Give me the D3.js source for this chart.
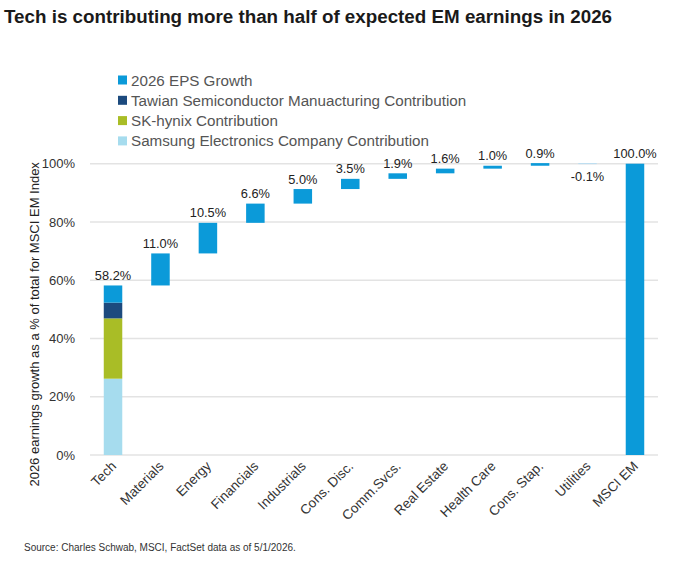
<!DOCTYPE html>
<html>
<head>
<meta charset="utf-8">
<script src="https://cdn.jsdelivr.net/npm/d3@7"></script>
<style>
	body { margin: 0; background: #fff; }
	svg { display: block; }
	text { font-family: "Liberation Sans", Arial, sans-serif; }
</style>
</head>
<body>
<script>
(function() {

	// categories and values (% of total MSCI EM earnings growth)
	var categories = ['Tech', 'Materials', 'Energy', 'Financials', 'Industrials', 'Cons. Disc.',
		'Comm.Svcs.', 'Real Estate', 'Health Care', 'Cons. Stap.', 'Utilities', 'MSCI EM'];
	var growth = [58.2, 11.0, 10.5, 6.6, 5.0, 3.5, 1.9, 1.6, 1.0, 0.9, -0.1, 100.0];

	// tech split
	var samsung = 26.2;
	var skHynix = 20.7;
	var tsmc = 5.4;
	var techRest = 5.9;

	var seriesNames = ['2026 EPS Growth', 'Tawian Semiconductor Manuacturing Contribution',
		'SK-hynix Contribution', 'Samsung Electronics Company Contribution'];
	var seriesColors = ['#0b9ad9', '#1c4a7e', '#a9bd26', '#a6dcee'];

	var yTicks = [0, 20, 40, 60, 80, 100];

	var width = 680, height = 561;
	var left = 90, right = 658, top = 163.7, bottom = 455;

	var svg = d3.select('body').append('svg')
		.attr('width', width)
		.attr('height', height);

	svg.append('text')
		.attr('x', 4).attr('y', 23)
		.attr('font-size', 18.8).attr('font-weight', 'bold')
		.attr('fill', '#1a1a1a')
		.text('Tech is contributing more than half of expected EM earnings in 2026');

	var x = d3.scaleBand()
		.domain(categories)
		.range([left, right])
		.paddingInner(0.61)
		.paddingOuter(0.29);

	var y = d3.scaleLinear()
		.domain([0, 100])
		.range([bottom, top]);

	// gridlines
	svg.append('g').selectAll('line')
		.data(yTicks)
		.enter().append('line')
		.attr('x1', left).attr('x2', right)
		.attr('y1', function(d) { return y(d); })
		.attr('y2', function(d) { return y(d); })
		.attr('stroke', '#e3e3e3').attr('stroke-width', 1.5);

	// y axis
	var yAxis = svg.append('g')
		.attr('transform', 'translate(' + (left - 12) + ',0)')
		.call(d3.axisLeft(y).tickValues(yTicks).tickSize(0).tickFormat(function(d) { return d + '%'; }));
	yAxis.select('.domain').remove();
	yAxis.selectAll('text').attr('font-size', 13).attr('fill', '#333')
		.style('font-family', '"Liberation Sans", Arial, sans-serif');

	svg.append('text')
		.attr('transform', 'translate(39,' + ((top + bottom) / 2 + 15) + ') rotate(-90)')
		.attr('text-anchor', 'middle')
		.attr('font-size', 13).attr('fill', '#222')
		.text('2026 earnings growth as a % of total for MSCI EM Index');

	// waterfall extents
	var bars = [];
	var running = 0;
	categories.forEach(function(c, i) {
		var v = growth[i];
		var lo, hi;
		if (c === 'MSCI EM') { lo = 0; hi = v; }
		else { lo = running; hi = running + v; running = hi; }
		bars.push({ cat: c, value: v, y0: Math.min(lo, hi), y1: Math.max(lo, hi) });
	});

	var g = svg.append('g');

	// tech stacked segments
	var techSegs = [
		{ y0: 0, y1: samsung, color: seriesColors[3] },
		{ y0: samsung, y1: samsung + skHynix, color: seriesColors[2] },
		{ y0: samsung + skHynix, y1: samsung + skHynix + tsmc, color: seriesColors[1] },
		{ y0: samsung + skHynix + tsmc, y1: samsung + skHynix + tsmc + techRest, color: seriesColors[0] }
	];
	g.selectAll('rect.tech')
		.data(techSegs)
		.enter().append('rect')
		.attr('class', 'tech')
		.attr('x', x('Tech'))
		.attr('width', x.bandwidth())
		.attr('y', function(d) { return y(d.y1); })
		.attr('height', function(d) { return y(d.y0) - y(d.y1); })
		.attr('fill', function(d) { return d.color; });

	g.selectAll('rect.bar')
		.data(bars.slice(1))
		.enter().append('rect')
		.attr('class', 'bar')
		.attr('x', function(d) { return x(d.cat); })
		.attr('width', x.bandwidth())
		.attr('y', function(d) { return y(d.y1); })
		.attr('height', function(d) { return Math.max(1, y(d.y0) - y(d.y1)); })
		.attr('fill', function(d) { return d.value < 0 ? '#b9def2' : seriesColors[0]; });

	// value labels
	g.selectAll('text.val')
		.data(bars)
		.enter().append('text')
		.attr('class', 'val')
		.attr('x', function(d) { return x(d.cat) + x.bandwidth() / 2; })
		.attr('y', function(d) { return d.value < 0 ? y(d.y0) + 18 : y(d.y1) - 5.5; })
		.attr('text-anchor', 'middle')
		.attr('font-size', 12.8).attr('fill', '#222')
		.text(function(d) { return d.value.toFixed(1) + '%'; });

	// x labels
	svg.append('g').selectAll('text')
		.data(categories)
		.enter().append('text')
		.attr('transform', function(d) {
			return 'translate(' + (x(d) + x.bandwidth() / 2 + 4) + ',' + (bottom + 12) + ') rotate(-45)';
		})
		.attr('text-anchor', 'end')
		.attr('font-size', 13.5).attr('fill', '#333')
		.text(function(d) { return d; });

	// legend
	var legend = svg.append('g').attr('transform', 'translate(118,80)');
	var item = legend.selectAll('g')
		.data(seriesNames)
		.enter().append('g')
		.attr('transform', function(d, i) { return 'translate(0,' + (i * 20.3) + ')'; });
	item.append('rect')
		.attr('x', 0).attr('y', -4.5)
		.attr('width', 9).attr('height', 9)
		.attr('fill', function(d, i) { return seriesColors[i]; });
	item.append('text')
		.attr('x', 13).attr('y', 5.5)
		.attr('font-size', 15.2).attr('fill', '#555')
		.text(function(d) { return d; });

	svg.append('text')
		.attr('x', 24).attr('y', 551)
		.attr('font-size', 10).attr('fill', '#333')
		.text('Source: Charles Schwab, MSCI, FactSet data as of 5/1/2026.');

})();
</script>
</body>
</html>
